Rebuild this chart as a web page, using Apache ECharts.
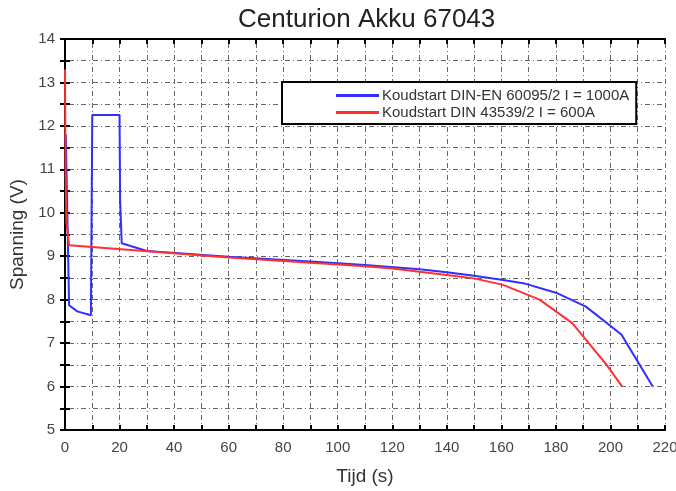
<!DOCTYPE html>
<html>
<head>
<meta charset="utf-8">
<title>Centurion Akku 67043</title>
<script src="https://cdn.jsdelivr.net/npm/echarts@6/dist/echarts.min.js"></script>
<style>
  html, body { margin: 0; padding: 0; background: #fff; }
  #chart { width: 676px; height: 491px; }
</style>
</head>
<body>
<div id="chart"></div>
<script>
// waarden: [tijd (s), spanning (V)]
var blueName = 'Koudstart DIN-EN 60095/2 I = 1000A';
var redName = 'Koudstart DIN 43539/2 I = 600A';

var blueTime = [0.3, 1.5, 4.5, 9.5, 10, 20, 20.2, 20.8, 30, 60, 90, 110, 130, 140, 150, 160, 168, 180, 191, 204, 215.5];
var blueVolt = [11.8, 7.87, 7.73, 7.64, 12.25, 12.25, 10.3, 9.3, 9.12, 8.99, 8.88, 8.8, 8.7, 8.63, 8.55, 8.46, 8.38, 8.16, 7.84, 7.2, 6.0];

var redTime = [0, 0.2, 0.5, 1.5, 60, 90, 110, 120, 130, 140, 150, 160.6, 174, 186, 198.6, 204.3];
var redVolt = [13.3, 11, 9.8, 9.25, 8.97, 8.85, 8.77, 8.72, 8.64, 8.57, 8.49, 8.34, 8.0, 7.46, 6.5, 6.0];

function pairs(xs, ys) {
  var out = [];
  for (var i = 0; i < xs.length; i++) out.push([xs[i], ys[i]]);
  return out;
}

var font = 'Liberation Sans, Arial, sans-serif';
var gridLine = { show: true, lineStyle: { color: '#666', width: 1, type: [1, 3, 5, 3] } };
var tick = { show: true, inside: true, length: 5, lineStyle: { color: '#000', width: 2 } };
var axLine = { show: true, lineStyle: { color: '#000', width: 2 } };

var chart = echarts.init(document.getElementById('chart'));
chart.setOption({
  animation: false,
  backgroundColor: '#fff',
  title: {
    text: 'Centurion Akku 67043',
    left: 233, top: 2,
    textStyle: { fontFamily: font, fontSize: 26, fontWeight: 'normal', color: '#222' }
  },
  legend: {
    left: 282, top: 82,
    orient: 'vertical', align: 'left',
    padding: [6, 7, 4, 54],
    itemGap: 2,
    itemWidth: 43, itemHeight: 3,
    icon: 'rect',
    borderColor: '#000', borderWidth: 2, borderRadius: 0,
    backgroundColor: '#fff',
    textStyle: { fontFamily: font, fontSize: 15, color: '#333', padding: [0, 0, 0, -2] },
    data: [blueName, redName]
  },
  grid: { left: 65, right: 11, top: 39, bottom: 61, outerBoundsMode: 'none' },
  xAxis: [{
    type: 'value', min: 0, max: 220, interval: 10,
    name: 'Tijd (s)', nameLocation: 'middle', nameGap: 37,
    nameTextStyle: { fontFamily: font, fontSize: 19, color: '#333' },
    axisLine: axLine, axisTick: tick, splitLine: gridLine,
    axisLabel: {
      fontFamily: font, fontSize: 15, color: '#444', margin: 10,
      formatter: function (v) { return v % 20 === 0 ? String(v) : ''; }
    }
  }, {
    type: 'value', min: 0, max: 220, interval: 10, position: 'top',
    axisLine: axLine, axisTick: tick, splitLine: { show: false }, axisLabel: { show: false }
  }],
  yAxis: [{
    type: 'value', min: 5, max: 14, interval: 0.5,
    name: 'Spanning (V)', nameLocation: 'middle', nameGap: 32,
    nameTextStyle: { fontFamily: font, fontSize: 19, color: '#333' },
    axisLine: axLine, axisTick: tick, splitLine: gridLine,
    axisLabel: {
      fontFamily: font, fontSize: 15, color: '#444', margin: 10,
      formatter: function (v) { return v % 1 === 0 ? String(v) : ''; }
    }
  }, {
    type: 'value', min: 5, max: 14, interval: 0.5, position: 'right',
    axisLine: axLine, axisTick: tick, splitLine: { show: false }, axisLabel: { show: false }
  }],
  series: [{
    name: blueName, type: 'line', showSymbol: false,
    itemStyle: { color: '#2f2fff' },
    lineStyle: { color: '#2f2fff', width: 2 },
    data: pairs(blueTime, blueVolt)
  }, {
    name: redName, type: 'line', showSymbol: false,
    itemStyle: { color: '#ff3030' },
    lineStyle: { color: '#ff3030', width: 2 },
    data: pairs(redTime, redVolt)
  }]
});
</script>
</body>
</html>
